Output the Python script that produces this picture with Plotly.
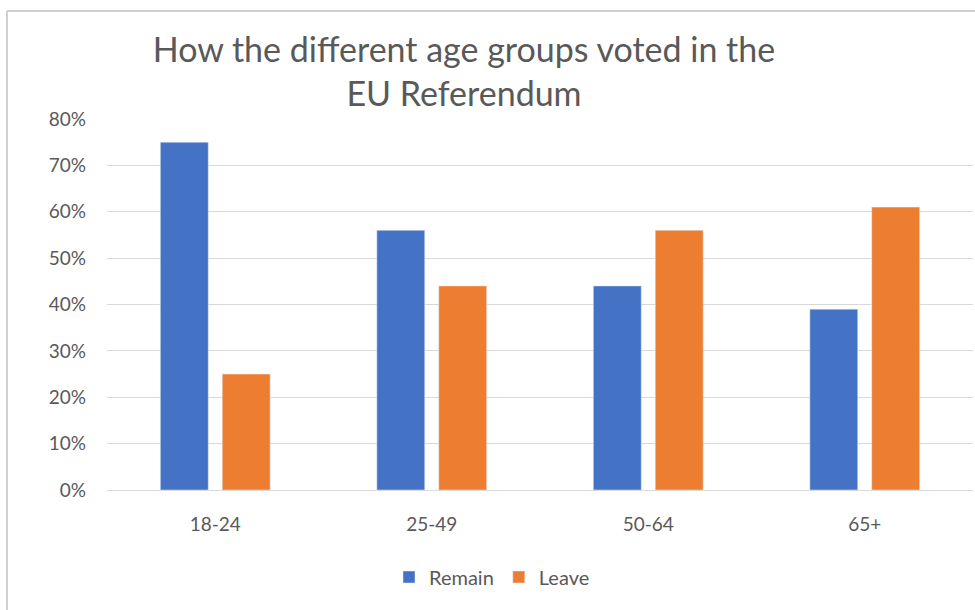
import plotly.graph_objects as go

categories = ["18-24", "25-49", "50-64", "65+"]
remain = [0.75, 0.56, 0.44, 0.39]
leave = [0.25, 0.44, 0.56, 0.61]
tick_vals = [0, 0.1, 0.2, 0.3, 0.4, 0.5, 0.6, 0.7, 0.8]
tick_text = ["0%", "10%", "20%", "30%", "40%", "50%", "60%", "70%", "80%"]

W, H = 975, 610
L, R, T, B = 107, 2, 119, 120
pw, ph = W - L - R, H - T - B

def px_to_paper_x(px):
    return (px - L) / pw

def px_to_paper_y(py):
    return (H - B - py) / ph

FONT = "Lato"
GREY = "#595959"

fig = go.Figure()
fig.add_trace(go.Bar(name="Remain", x=categories, y=remain, marker_color="#4472C4"))
fig.add_trace(go.Bar(name="Leave", x=categories, y=leave, marker_color="#ED7D31"))

fig.update_layout(
    width=W, height=H,
    margin=dict(l=L, r=R, t=T, b=B),
    paper_bgcolor="white", plot_bgcolor="white",
    barmode="group", bargap=0.428, bargroupgap=0.226,
    font=dict(family=FONT, color=GREY, size=16),
    title=dict(
        text="How the different age groups voted in the<br>EU Referendum",
        x=464 / W, xanchor="center", y=1 - 62 / H, yanchor="middle",
        font=dict(family=FONT, size=34, color=GREY),
    ),
    legend=dict(
        orientation="h", x=px_to_paper_x(492), xanchor="center",
        y=px_to_paper_y(577), yanchor="middle",
        font=dict(family=FONT, size=20, color=GREY),
        itemwidth=30, traceorder="normal",
    ),
    showlegend=True,
)
fig.update_yaxes(
    range=[0, 0.8], tickvals=tick_vals, ticktext=tick_text,
    showgrid=True, gridcolor="#D9D9D9", gridwidth=1,
    zeroline=False, showline=False, ticks="", ticklabelstandoff=20,
    tickfont=dict(family=FONT, size=19, color=GREY),
)
fig.update_xaxes(
    showline=True, linecolor="#D9D9D9", linewidth=1, ticks="",
    ticklabelstandoff=17,
    tickfont=dict(family=FONT, size=19, color=GREY),
)

# chart border (left and top edges visible)
fig.add_shape(type="line", xref="paper", yref="paper",
              x0=px_to_paper_x(7), x1=px_to_paper_x(1000),
              y0=px_to_paper_y(11), y1=px_to_paper_y(11),
              line=dict(color="#D0D0D0", width=2))
fig.add_shape(type="line", xref="paper", yref="paper",
              x0=px_to_paper_x(7), x1=px_to_paper_x(7),
              y0=px_to_paper_y(11), y1=px_to_paper_y(640),
              line=dict(color="#D0D0D0", width=2))

fig.write_html("out.html")
